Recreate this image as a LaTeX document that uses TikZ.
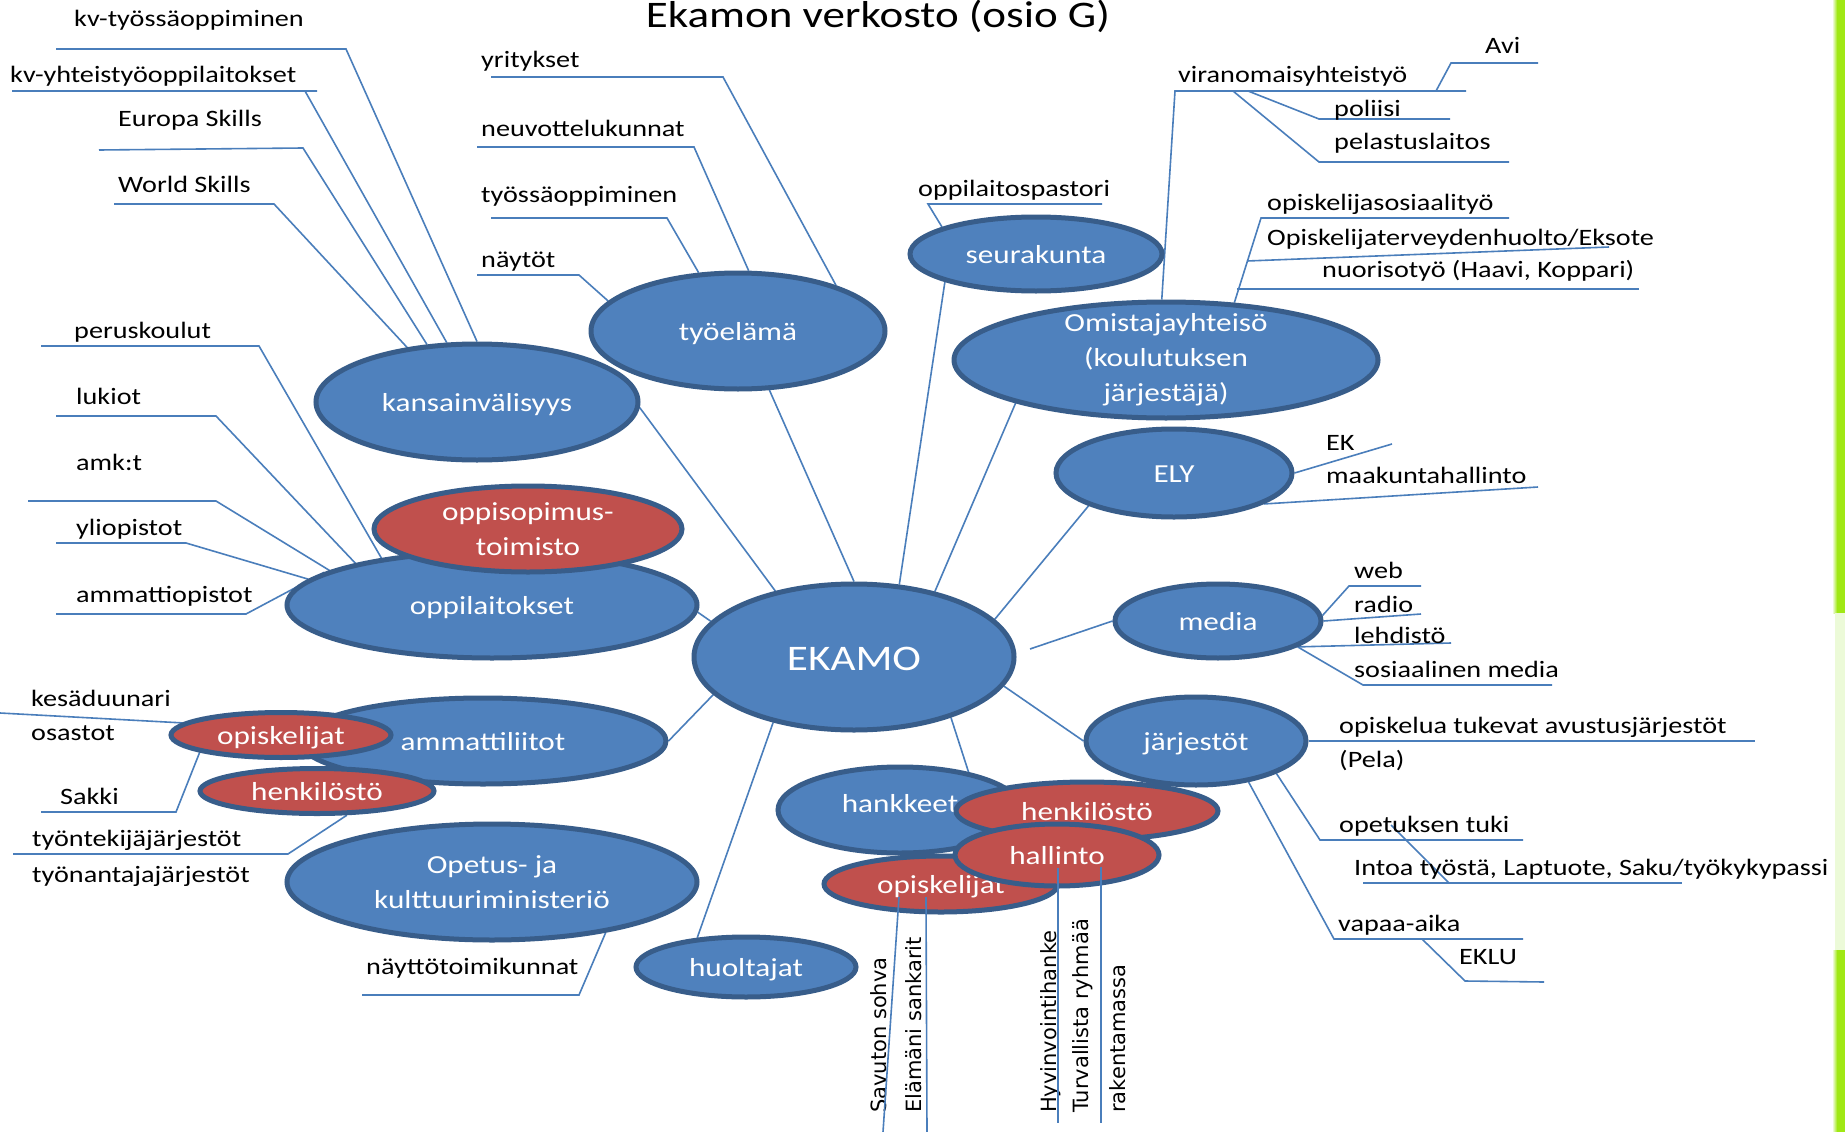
\documentclass[tikz,border=0pt]{standalone}
\usepackage{fontspec}
\setmainfont{Carlito}[FakeStretch=1.2]
\newfontfamily\vfont{DejaVu Sans}
\usetikzlibrary{shapes.geometric}
\pgfdeclarelayer{bg}
\pgfsetlayers{bg,main}
\definecolor{ekblue}{HTML}{4F81BD}
\definecolor{ekred}{HTML}{C0504D}
\definecolor{ekborder}{HTML}{385D8A}
\definecolor{ekline}{HTML}{4A7EBB}
\definecolor{ekgreen}{RGB}{160,232,20}
\definecolor{ekpale}{RGB}{236,250,216}
\tikzset{
  ell/.style={ellipse, draw=ekborder, line width=5pt, inner sep=0pt, text=white,
    font=\fontsize{26}{35}\selectfont, align=center},
  bell/.style={ell, fill=ekblue},
  rell/.style={ell, fill=ekred},
  sz/.style 2 args={minimum width=#1pt, minimum height=#2pt},
  one/.style={text height=19.5pt, text depth=0pt},
  lbl/.style={anchor=base west, inner sep=0pt, font=\fontsize{23.5}{28}\selectfont, text=black},
  vlbl/.style={rotate=90, anchor=base west, inner sep=0pt, font=\vfont\fontsize{21}{25}\selectfont, text=black},
  conn/.style={draw=ekline, line width=1.6pt}
}
\begin{document}
\begin{tikzpicture}[x=1pt,y=-1pt]
\useasboundingbox (0,0) rectangle (1845,1132);

% title
\node[font=\fontsize{37.5}{40}\selectfont, anchor=base, inner sep=0pt] (title) at (878,28) {Ekamon verkosto (osio G)};

% ellipses
\node[bell, sz={322}{116}, one] (kans) at (477,402) {kansainvälisyys};
\node[bell, sz={294}{116}, one] (tyo) at (738,331) {työelämä};
\node[bell, sz={252}{74}, one] (seura) at (1036,254) {seurakunta};
\node[bell, sz={424}{116}, inner sep=-20pt] (omist) at (1166,360) {Omistajayhteisö\\(koulutuksen\\järjestäjä)};
\node[bell, sz={236}{88}, one] (ely) at (1174,473) {ELY};
\node[bell, sz={206}{74}, one] (media) at (1218,621) {media};
\node[bell, sz={220}{88}, one] (jarj) at (1196,741) {järjestöt};
\node[bell, sz={320}{146}, one, text height=27pt, font=\fontsize{36}{40}\selectfont] (ekamo) at (854,657) {EKAMO};
\node[bell, sz={410}{106}, one] (oppil) at (492,605) {oppilaitokset};
\node[rell, sz={308}{86}] (oppiso) at (528,529) {oppisopimus-\\toimisto};
\node[bell, sz={366}{86}, one] (ammat) at (483,741) {ammattiliitot};
\node[rell, sz={220}{45}, one] (opiskL) at (281,735) {opiskelijat};
\node[rell, sz={234}{45}, one] (henkL) at (317,791) {henkilöstö};
\node[bell, sz={410}{116}] (okm) at (492,882) {Opetus- ja\\kulttuuriministeriö};
\node[bell, sz={220}{60}, one] (huolt) at (746,967) {huoltajat};
\node[bell, sz={244}{86}, one, text depth=14pt] (hank) at (900,810) {hankkeet};
\node[rell, sz={234}{56}, one] (opiskR) at (941,884) {opiskelijat};
\node[rell, sz={262}{58}, one] (henkR) at (1087,811) {henkilöstö};
\node[rell, sz={204}{62}, one] (hall) at (1057,855) {hallinto};

% labels
\node[lbl] (l1) at (74,27) {kv-työssäoppiminen};
\node[lbl] (l2) at (10,82) {kv-yhteistyöoppilaitokset};
\node[lbl] (l3) at (118,126) {Europa Skills};
\node[lbl] (l4) at (118,192) {World Skills};
\node[lbl] (l5) at (481,68) {yritykset};
\node[lbl] (l6) at (481,136) {neuvottelukunnat};
\node[lbl] (l7) at (481,202) {työssäoppiminen};
\node[lbl] (l8) at (481,267) {näytöt};
\node[lbl] (l9) at (74,338) {peruskoulut};
\node[lbl] (l10) at (76,404) {lukiot};
\node[lbl] (l11) at (76,470) {amk:t};
\node[lbl] (l12) at (76,535) {yliopistot};
\node[lbl] (l13) at (76,602) {ammattiopistot};
\node[lbl] (l14) at (31,706) {kesäduunari};
\node[lbl] (l15) at (31,740) {osastot};
\node[lbl] (l16) at (60,804) {Sakki};
\node[lbl] (l17) at (32,846) {työntekijäjärjestöt};
\node[lbl] (l18) at (32,882) {työnantajajärjestöt};
\node[lbl] (l19) at (366,974) {näyttötoimikunnat};
\node[lbl] (l20) at (1485,54) {Avi};
\node[lbl] (l21) at (1178,82) {viranomaisyhteistyö};
\node[lbl] (l22) at (1334,117) {poliisi};
\node[lbl] (l23) at (1334,149) {pelastuslaitos};
\node[lbl] (l24) at (918,196) {oppilaitospastori};
\node[lbl] (l25) at (1267,210) {opiskelijasosiaalityö};
\node[lbl] (l26) at (1267,245) {Opiskelijaterveydenhuolto/Eksote};
\node[lbl] (l27) at (1322,277) {nuorisotyö (Haavi, Koppari)};
\node[lbl] (l28) at (1326,450) {EK};
\node[lbl] (l29) at (1326,483) {maakuntahallinto};
\node[lbl] (l30) at (1354,578) {web};
\node[lbl] (l31) at (1354,612) {radio};
\node[lbl] (l32) at (1354,643) {lehdistö};
\node[lbl] (l33) at (1354,677) {sosiaalinen media};
\node[lbl] (l34) at (1339,733) {opiskelua tukevat avustusjärjestöt};
\node[lbl] (l35) at (1339,767) {(Pela)};
\node[lbl] (l36) at (1339,832) {opetuksen tuki};
\node[lbl] (l37) at (1354,875) {Intoa työstä, Laptuote, Saku/työkykypassi};
\node[lbl] (l38) at (1338,931) {vapaa-aika};
\node[lbl] (l39) at (1459,964) {EKLU};
\node[vlbl] (v1) at (886,1113) {Savuton sohva};
\node[vlbl] (v2) at (921,1113) {Elämäni sankarit};
\node[vlbl] (v3) at (1056,1113) {Hyvinvointihanke};
\node[vlbl] (v4) at (1088,1113) {Turvallista ryhmää};
\node[vlbl] (v5) at (1125,1113) {rakentamassa};

% vertical connectors drawn over their ellipses
\coordinate (vb1) at (883,1132); \coordinate (vb2) at (927,1132);
\coordinate (vb3) at (1058,1123); \coordinate (vb4) at (1101,1123);
\draw[conn] ([shift={(-42,13)}]opiskR.center) -- (vb1);
\draw[conn] ([shift={(-15,13)}]opiskR.center) -- (vb2);
\draw[conn] ([shift={(1,13)}]hall.center) -- (vb3);
\draw[conn] ([shift={(44,12)}]hall.center) -- (vb4);

% background, green edge and connectors
\begin{pgfonlayer}{bg}
\fill[white] (0,0) rectangle (1845,1132);
\fill[ekgreen] (1837,0) rectangle (1845,613);
\shade[left color=white, right color=ekgreen] (1832,0) rectangle (1837,613);
\fill[ekpale] (1835,613) rectangle (1845,950);
\fill[ekgreen] (1837,950) rectangle (1845,1132);
\shade[left color=white, right color=ekgreen] (1832,950) rectangle (1837,1132);

\coordinate (a1) at (56,49); \coordinate (a2) at (346,49);
\draw[conn] (a1) -- (a2) -- (kans.90);
\coordinate (b1) at (12,91); \coordinate (b2) at (317,91); \coordinate (b3) at (305,91);
\draw[conn] (b1) -- (b2) (b3) -- (kans.117);
\coordinate (c1) at (99,150); \coordinate (c2) at (303,148);
\draw[conn] (c1) -- (c2) -- (kans.131);
\coordinate (d1) at (114,204); \coordinate (d2) at (274,204);
\draw[conn] (d1) -- (d2) -- (kans.142);
\coordinate (e1) at (491,77); \coordinate (e2) at (723,77);
\draw[conn] (e1) -- (e2) -- (tyo.25);
\coordinate (f1) at (477,147); \coordinate (f2) at (694,147);
\draw[conn] (f1) -- (f2) -- (tyo.80);
\coordinate (g1) at (491,218); \coordinate (g2) at (667,218);
\draw[conn] (g1) -- (g2) -- (tyo.124);
\coordinate (h1) at (477,275); \coordinate (h2) at (579,275);
\draw[conn] (h1) -- (h2) -- (tyo.167);
\coordinate (i1) at (1102,204); \coordinate (i2) at (928,204);
\draw[conn] (i1) -- (i2) -- (seura.164);
\coordinate (j1) at (1466,91); \coordinate (j2) at (1175,91);
\draw[conn] (j1) -- (j2) -- (omist.94);
\coordinate (k1) at (1538,63); \coordinate (k2) at (1451,63); \coordinate (k3) at (1436,91);
\draw[conn] (k1) -- (k2) -- (k3);
\coordinate (m1) at (1450,119); \coordinate (m2) at (1319,119); \coordinate (m3) at (1248,91);
\draw[conn] (m1) -- (m2) -- (m3);
\coordinate (n1) at (1509,162); \coordinate (n2) at (1319,162); \coordinate (n3) at (1233,91);
\draw[conn] (n1) -- (n2) -- (n3);
\coordinate (o1) at (1509,218); \coordinate (o2) at (1261,218);
\draw[conn] (o1) -- (o2) -- (omist.40);
\coordinate (o3) at (1247,261); \coordinate (o4) at (1609,247);
\draw[conn] (o3) -- (o4);
\coordinate (o5) at (1237,289); \coordinate (o6) at (1639,289);
\draw[conn] (o5) -- (o6);
\coordinate (p1) at (1392,444);
\draw[conn] (ely.0) -- (p1);
\coordinate (p2) at (1538,487);
\draw[conn] (ely.341) -- (p2);
\coordinate (q0) at (1030,649);
\draw[conn] (q0) -- (media.180);
\coordinate (q1) at (1421,586); \coordinate (q2) at (1349,586);
\draw[conn] (q1) -- (q2) -- (media.3);
\coordinate (q3) at (1421,614);
\draw[conn] (media.0) -- (q3);
\coordinate (q4) at (1451,643);
\draw[conn] (media.342) -- (q4);
\coordinate (q5) at (1363,685); \coordinate (q6) at (1552,685);
\draw[conn] (media.342) -- (q5) -- (q6);
\coordinate (r1) at (1755,741);
\draw[conn] (jarj.0) -- (r1);
\coordinate (r2) at (1320,840); \coordinate (r3) at (1523,840);
\draw[conn] (jarj.338) -- (r2) -- (r3);
\coordinate (r4) at (1391,825); \coordinate (r5) at (1449,883);
\draw[conn] (r4) -- (r5);
\coordinate (r6) at (1363,883); \coordinate (r7) at (1682,883);
\draw[conn] (r6) -- (r7);
\coordinate (s1) at (1334,939); \coordinate (s2) at (1523,939);
\draw[conn] (jarj.322) -- (s1) -- (s2);
\coordinate (s3) at (1422,939); \coordinate (s4) at (1465,981); \coordinate (s5) at (1544,982);
\draw[conn] (s3) -- (s4) -- (s5);
\draw[conn] (kans.358) -- (ekamo.140);
\draw[conn] (tyo.298) -- (ekamo.90);
\draw[conn] (seura.197) -- (ekamo.58);
\draw[conn] (omist.196) -- (ekamo.39);
\draw[conn] (ely.201) -- (ekamo.15);
\draw[conn] (jarj.180) -- (ekamo.349);
\draw[conn] (hank.29) -- (ekamo.328);
\draw[conn] (huolt.149) -- (ekamo.219);
\draw[conn] (ammat.0) -- (ekamo.195);
\draw[conn] (oppil.358) -- (ekamo.166);
\coordinate (t1) at (0,713);
\draw[conn] (t1) -- (opiskL.173);
\coordinate (t2) at (41,812); \coordinate (t3) at (176,812);
\draw[conn] (t2) -- (t3) -- (opiskL.192);
\coordinate (t4) at (13,854); \coordinate (t5) at (288,854);
\draw[conn] (t4) -- (t5) -- (henkL.321);
\coordinate (w1) at (41,346); \coordinate (w2) at (259,346);
\draw[conn] (w1) -- (w2) -- (oppil.157);
\coordinate (x1) at (56,416); \coordinate (x2) at (216,416);
\draw[conn] (x1) -- (x2) -- (oppil.163);
\coordinate (y1) at (28,501); \coordinate (y2) at (216,501);
\draw[conn] (y1) -- (y2) -- (oppil.168);
\coordinate (z1) at (56,543); \coordinate (z2) at (186,543);
\draw[conn] (z1) -- (z2) -- (oppil.172);
\coordinate (z3) at (56,614); \coordinate (z4) at (246,614);
\draw[conn] (z3) -- (z4) -- (oppil.169);
\coordinate (nt1) at (362,995); \coordinate (nt2) at (579,995);
\draw[conn] (nt1) -- (nt2) -- (okm.336);
\end{pgfonlayer}
\end{tikzpicture}
\end{document}
